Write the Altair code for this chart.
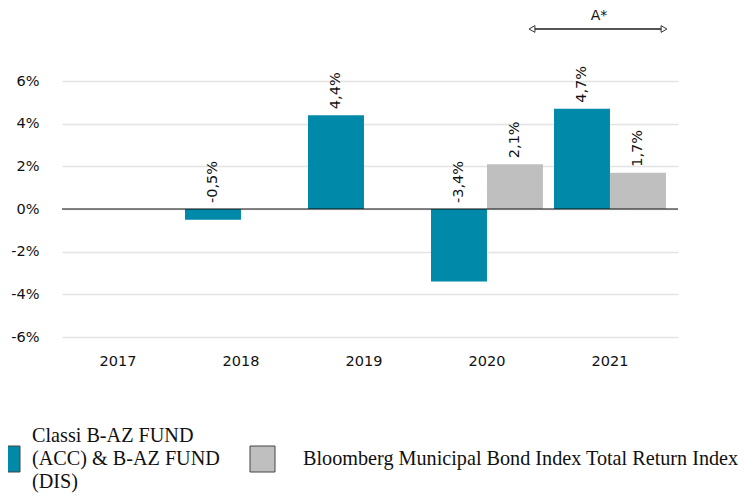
import altair as alt
import pandas as pd

years = ["2017", "2018", "2019", "2020", "2021"]
fund_values = [None, -0.5, 4.4, -3.4, 4.7]
index_values = [None, None, None, 2.1, 1.7]
fund_name = "Classi B-AZ FUND (ACC) & B-AZ FUND (DIS)"
fund_legend_text = "Classi B-AZ FUND\n(ACC) & B-AZ FUND\n(DIS)"
index_name = "Bloomberg Municipal Bond Index Total Return Index"
y_ticks = [-6, -4, -2, 0, 2, 4, 6]
colors = ["#0089A8", "#BFBFBF"]
annotation = "A*"

rows = []
for y, f, i in zip(years, fund_values, index_values):
    if f is not None:
        rows.append({"year": y, "series": fund_name, "value": f})
    if i is not None:
        rows.append({"year": y, "series": index_name, "value": i})
df = pd.DataFrame(rows)

SANS = "DejaVu Sans"
SERIF = "Liberation Serif"

x_enc = alt.X("year:N", sort=years, scale=alt.Scale(domain=years, paddingInner=0.09, paddingOuter=0.049, align=0),
              axis=alt.Axis(title=None, labelAngle=0, domain=False, ticks=False, labelPadding=17,
                            labelFont=SANS, labelFontSize=14.5, labelColor="#111"))
xoff_enc = alt.XOffset("series:N", sort=[fund_name, index_name],
                       scale=alt.Scale(domain=[fund_name, index_name], paddingInner=0, paddingOuter=0))

bars = alt.Chart(df).mark_bar().encode(
    x=x_enc,
    xOffset=xoff_enc,
    y=alt.Y("value:Q", scale=alt.Scale(domain=[-6, 6], nice=False),
            axis=alt.Axis(title=None, values=y_ticks, labelExpr="datum.value + '%'", domain=False, ticks=False,
                          labelPadding=23, gridColor="#E3E3E3", gridWidth=1.5, labelFont=SANS,
                          labelFontSize=14.5, labelColor="#111")),
    color=alt.Color("series:N", sort=[fund_name, index_name],
                    scale=alt.Scale(domain=[fund_name, index_name], range=colors), legend=None),
)

labels = alt.Chart(df).transform_calculate(
    ypos="max(datum.value, 0)",
    txt="replace(replace(format(datum.value, '.1f'), '\u2212', '-'), '.', ',') + '%'",
).mark_text(angle=270, align="left", baseline="middle", dx=6, font=SANS, fontSize=14.5, color="#111").encode(
    x=alt.X("year:N", sort=years),
    xOffset=alt.XOffset("series:N", sort=[fund_name, index_name]),
    y=alt.Y("ypos:Q"),
    text="txt:N",
)

zero = alt.Chart(pd.DataFrame({"z": [0]})).mark_rule(color="#111", strokeWidth=1.2).encode(y="z:Q")

one = pd.DataFrame({"t": [annotation]})
arrow_line = alt.Chart(one).mark_rule(color="#555", strokeWidth=2).encode(
    x=alt.value(470), x2=alt.value(602), y=alt.value(-52))
arrow_l = alt.Chart(one).mark_point(shape="triangle-left", filled=True, fill="white", stroke="#333",
                                    strokeWidth=1, size=45, opacity=1).encode(x=alt.value(470), y=alt.value(-52))
arrow_r = alt.Chart(one).mark_point(shape="triangle-right", filled=True, fill="white", stroke="#333",
                                    strokeWidth=1, size=45, opacity=1).encode(x=alt.value(602), y=alt.value(-52))
annot_text = alt.Chart(one).mark_text(font=SANS, fontSize=14, color="#111").encode(
    x=alt.value(537), y=alt.value(-65), text="t:N")

# custom legend
sw1 = alt.Chart(one).mark_rect(fill=colors[0], stroke="#444", strokeWidth=1).encode(
    x=alt.value(-66), x2=alt.value(-42), y=alt.value(365), y2=alt.value(391))
sw2 = alt.Chart(one).mark_rect(fill=colors[1], stroke="#444", strokeWidth=1).encode(
    x=alt.value(188), x2=alt.value(213), y=alt.value(365), y2=alt.value(391))
lt1 = alt.Chart(one).mark_text(font=SERIF, fontSize=20.2, color="#111", align="left", baseline="middle",
                               lineBreak="\n", lineHeight=23).encode(
    x=alt.value(-30), y=alt.value(355), text=alt.value(fund_legend_text))
lt2 = alt.Chart(one).mark_text(font=SERIF, fontSize=20.2, color="#111", align="left", baseline="middle").encode(
    x=alt.value(241), y=alt.value(378), text=alt.value(index_name))

chart = alt.layer(bars, zero, labels, arrow_line, arrow_l, arrow_r, annot_text, sw1, sw2, lt1, lt2).properties(
    width=616, height=256,
    autosize=alt.AutoSizeParams(type="none"),
    padding={"left": 54, "top": 73, "right": 67, "bottom": 158},
).configure_view(stroke=None)

chart.save("out.html", embed_options={"renderer": "svg", "actions": False})
